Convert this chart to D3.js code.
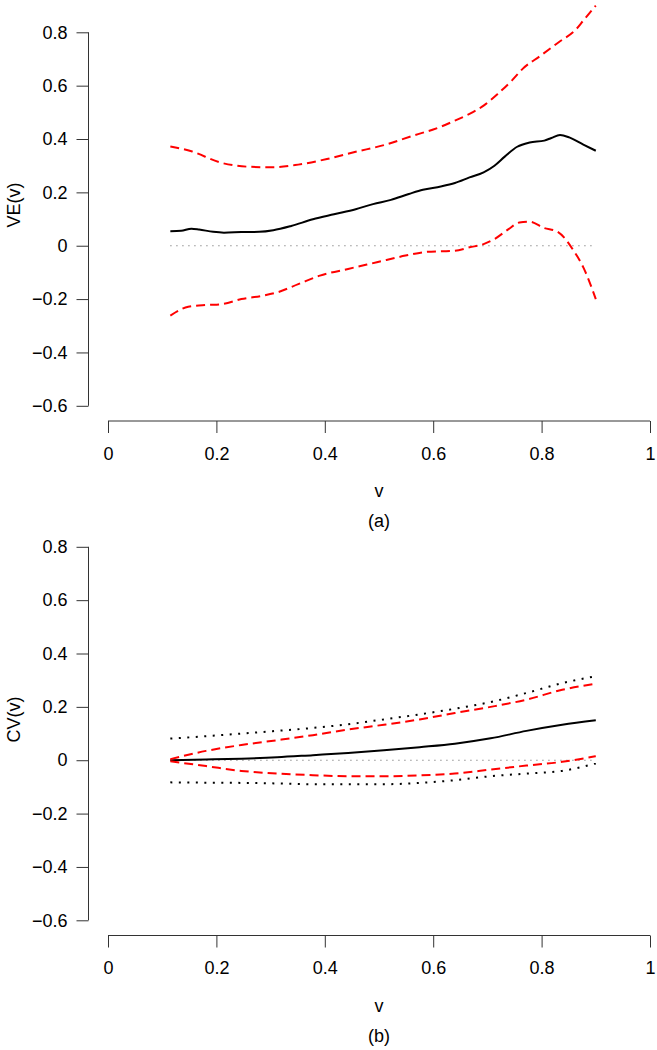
<!DOCTYPE html>
<html>
<head>
<meta charset="utf-8">
<script src="https://cdn.jsdelivr.net/npm/d3@7"></script>
<style>
  html, body { margin: 0; padding: 0; background: #fff; }
  svg { display: block; }
  text { font-family: "Liberation Sans", Arial, Helvetica, sans-serif; font-size: 18px; fill: #000; }
</style>
</head>
<body>
<svg id="chart" width="657" height="1050"></svg>
<script>
// ---------- Data ----------
const xTicks = [0, 0.2, 0.4, 0.6, 0.8, 1];
const xTickLabels = ["0", "0.2", "0.4", "0.6", "0.8", "1"];
const yTicks = [-0.6, -0.4, -0.2, 0, 0.2, 0.4, 0.6, 0.8];
const yTickLabels = ["\u22120.6", "\u22120.4", "\u22120.2", "0", "0.2", "0.4", "0.6", "0.8"];

// Panel (a): VE(v)
const vA = [0.115, 0.135, 0.154, 0.168, 0.194, 0.214, 0.246, 0.279, 0.305, 0.338, 0.378, 0.417, 0.457, 0.489, 0.522, 0.555, 0.581, 0.614, 0.64, 0.667, 0.693, 0.713, 0.732, 0.755, 0.778, 0.805, 0.818, 0.834, 0.851, 0.877, 0.9];
const veEst = [0.054, 0.056, 0.064, 0.061, 0.052, 0.049, 0.051, 0.052, 0.058, 0.074, 0.099, 0.118, 0.137, 0.156, 0.172, 0.194, 0.21, 0.222, 0.235, 0.256, 0.275, 0.3, 0.334, 0.371, 0.387, 0.394, 0.404, 0.415, 0.406, 0.379, 0.356];
const vAUpper = [0.115, 0.154, 0.207, 0.26, 0.305, 0.351, 0.404, 0.457, 0.509, 0.562, 0.614, 0.64, 0.667, 0.693, 0.719, 0.745, 0.765, 0.798, 0.831, 0.864, 0.877, 0.9];
const veUpper = [0.372, 0.354, 0.312, 0.296, 0.294, 0.304, 0.325, 0.352, 0.377, 0.412, 0.446, 0.469, 0.494, 0.525, 0.569, 0.619, 0.663, 0.712, 0.762, 0.812, 0.844, 0.9];
const vALower = [0.115, 0.148, 0.181, 0.21, 0.246, 0.286, 0.312, 0.351, 0.391, 0.443, 0.496, 0.549, 0.588, 0.64, 0.667, 0.693, 0.713, 0.739, 0.759, 0.778, 0.805, 0.828, 0.844, 0.857, 0.877, 0.9];
const veLower = [-0.262, -0.229, -0.222, -0.219, -0.2, -0.187, -0.175, -0.144, -0.112, -0.087, -0.062, -0.037, -0.023, -0.019, -0.006, 0.006, 0.025, 0.062, 0.087, 0.09, 0.066, 0.054, 0.025, -0.012, -0.081, -0.2];

// Panel (b): CV(v)
const vB = [0.115, 0.181, 0.246, 0.312, 0.378, 0.443, 0.509, 0.575, 0.64, 0.706, 0.772, 0.838, 0.9];
const cvEst = [0, 0.003, 0.006, 0.011, 0.019, 0.027, 0.037, 0.049, 0.062, 0.082, 0.11, 0.133, 0.15];
const cvUpper = [0.004, 0.035, 0.057, 0.075, 0.094, 0.115, 0.133, 0.153, 0.177, 0.2, 0.227, 0.264, 0.287];
const cvLower = [-0.004, -0.022, -0.04, -0.05, -0.056, -0.06, -0.06, -0.057, -0.05, -0.035, -0.02, -0.006, 0.015];
const cvBandUpper = [0.081, 0.09, 0.1, 0.11, 0.121, 0.135, 0.153, 0.172, 0.193, 0.218, 0.252, 0.289, 0.315];
const cvBandLower = [-0.083, -0.084, -0.085, -0.087, -0.09, -0.09, -0.09, -0.085, -0.075, -0.06, -0.05, -0.04, -0.012];

const refX = [0.115, 0.9];
const refY = [0, 0];

// ---------- Drawing ----------
const svg = d3.select("#chart");
const x = d3.scaleLinear().domain([0, 1]).range([108, 650]);
const FONT = "Liberation Sans, Arial, sans-serif";

function panel(offsetY, yLabel, tag, series) {
  const g = svg.append("g").attr("transform", `translate(0,${offsetY})`);
  const y = d3.scaleLinear().domain([-0.6, 0.8]).range([405.8, 32.3]);

  // y axis
  const yAxis = g.append("g").attr("transform", "translate(88.5,0)")
    .call(d3.axisLeft(y).tickValues(yTicks).tickSize(12).tickPadding(9)
      .tickFormat((d, i) => yTickLabels[i]));
  yAxis.select(".domain").attr("d", `M0,${y(-0.6)}V${y(0.8)}`).attr("stroke", "#333");
  yAxis.selectAll(".tick line").attr("stroke", "#333");
  yAxis.selectAll("text").attr("font-size", 18).attr("font-family", FONT).attr("fill", "#000");

  // x axis
  const xAxis = g.append("g").attr("transform", "translate(0,421)")
    .call(d3.axisBottom(x).tickValues(xTicks).tickSize(12).tickPadding(14)
      .tickFormat((d, i) => xTickLabels[i]));
  xAxis.select(".domain").attr("d", `M${x(0)},0H${x(1)}`).attr("stroke", "#333");
  xAxis.selectAll(".tick line").attr("stroke", "#333");
  xAxis.selectAll("text").attr("font-size", 18).attr("font-family", FONT).attr("fill", "#000");

  // labels
  g.append("text").attr("x", x(0.5)).attr("y", 497).attr("text-anchor", "middle").text("v");
  g.append("text").attr("x", x(0.5)).attr("y", 527).attr("text-anchor", "middle").text(tag);
  g.append("text").attr("transform", `translate(20,205) rotate(-90)`).attr("text-anchor", "middle").text(yLabel);

  // series
  series.forEach(s => {
    const pts = s.xs.map((v, i) => [v, s.ys[i]]);
    const line = d3.line().x(d => x(d[0])).y(d => y(d[1])).curve(s.curve || d3.curveMonotoneX);
    g.append("path").datum(pts)
      .attr("d", line)
      .attr("fill", "none")
      .attr("stroke", s.color)
      .attr("stroke-width", s.width)
      .attr("stroke-dasharray", s.dash || null)
      .attr("stroke-linecap", s.cap || "butt")
      .attr("stroke-linejoin", "round");
  });
}

panel(0, "VE(v)", "(a)", [
  { xs: refX, ys: refY, color: "#777", width: 1.2, dash: "1.2,4.8", curve: d3.curveLinear },
  { xs: vA, ys: veEst, color: "#000", width: 2 },
  { xs: vAUpper, ys: veUpper, color: "#ff0000", width: 2, dash: "9,5" },
  { xs: vALower, ys: veLower, color: "#ff0000", width: 2, dash: "9,5" }
]);

panel(514.5, "CV(v)", "(b)", [
  { xs: refX, ys: refY, color: "#777", width: 1.2, dash: "1.2,4.8", curve: d3.curveLinear },
  { xs: vB, ys: cvBandUpper, color: "#000", width: 2, dash: "2,6.5" },
  { xs: vB, ys: cvBandLower, color: "#000", width: 2, dash: "2,6.5" },
  { xs: vB, ys: cvEst, color: "#000", width: 2 },
  { xs: vB, ys: cvUpper, color: "#ff0000", width: 2, dash: "9,5" },
  { xs: vB, ys: cvLower, color: "#ff0000", width: 2, dash: "9,5" }
]);
</script>
</body>
</html>
